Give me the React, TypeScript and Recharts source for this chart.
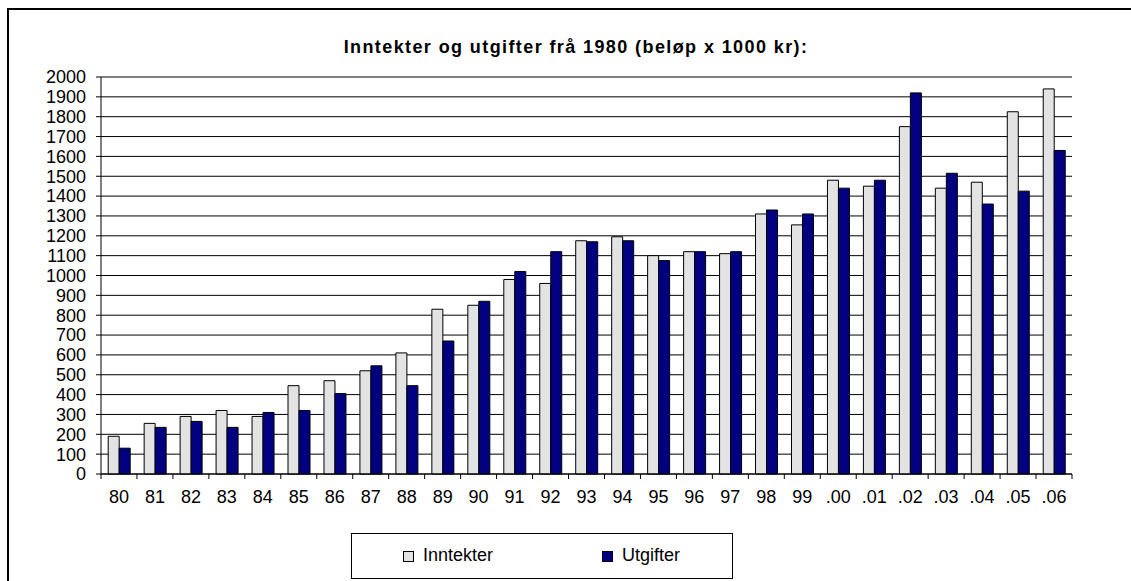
import React from 'react';
import { BarChart, Bar, XAxis, YAxis, CartesianGrid, Legend } from 'recharts';

const years = ['80','81','82','83','84','85','86','87','88','89','90','91','92','93','94','95','96','97','98','99','.00','.01','.02','.03','.04','.05','.06'];
const inntekter = [190,255,290,320,290,445,470,520,610,830,850,980,960,1175,1195,1100,1120,1110,1310,1255,1480,1450,1750,1440,1470,1825,1940];
const utgifter = [130,235,265,235,310,320,405,545,445,670,870,1020,1120,1170,1175,1075,1120,1120,1330,1310,1440,1480,1920,1515,1360,1425,1630];
const yTicks = [0,100,200,300,400,500,600,700,800,900,1000,1100,1200,1300,1400,1500,1600,1700,1800,1900,2000];

const data = years.map((y, i) => ({ year: y, Inntekter: inntekter[i], Utgifter: utgifter[i] }));

const FONT = '"Liberation Sans", Arial, sans-serif';
const TICK_SIZE = 5;
const TICK_MARGIN = 11;

const LegendBox = () => (
  <div style={{ width: 380, height: 44, border: '1px solid #000', boxSizing: 'content-box', position: 'relative', fontFamily: FONT, fontSize: 18, color: '#000', background: '#fff' }}>
    <div style={{ position: 'absolute', left: 51, top: 17, width: 9, height: 9, background: '#E3E3E3', border: '1px solid #000' }} />
    <div style={{ position: 'absolute', left: 71, top: 11, lineHeight: '20px' }}>Inntekter</div>
    <div style={{ position: 'absolute', left: 250, top: 17, width: 9, height: 9, background: '#000080', border: '1px solid #000' }} />
    <div style={{ position: 'absolute', left: 270, top: 11, lineHeight: '20px' }}>Utgifter</div>
  </div>
);

const CatTick = (props: any) => {
  const { x, y, payload, index } = props;
  const half = payload && payload.offset ? payload.offset : (1072 - 101) / years.length / 2;
  const axisY = y - TICK_SIZE - TICK_MARGIN;
  const isLast = index === years.length - 1;
  return (
    <g>
      <line x1={x - half} x2={x - half} y1={axisY} y2={axisY + TICK_SIZE} stroke="#000" />
      {isLast && <line x1={x + half} x2={x + half} y1={axisY} y2={axisY + TICK_SIZE} stroke="#000" />}
      <text x={x} y={y} dy="0.71em" textAnchor="middle" fill="#000" fontSize={18} fontFamily={FONT}>{payload.value}</text>
    </g>
  );
};

const tickLineStyle = { stroke: '#000' };
const yTick = { fill: '#000', fontSize: 18, fontFamily: FONT };
const axisLineStyle = { stroke: '#000' };
const legendContent = () => <LegendBox />;
const legendWrapper = { left: 351, top: 533, width: 382, height: 46 };
const yDomain = [0, 2000];

export default function App() {
  return (
    <div style={{ position: 'absolute', left: 0, top: 0, width: 1131, height: 581, overflow: 'hidden', background: '#fff' }}>
      <div style={{ position: 'absolute', left: 7, top: 8, width: 1300, height: 800, border: '2px solid #000' }} />
      <div style={{ position: 'absolute', left: 0, top: 37, width: 1152, textAlign: 'center', fontFamily: FONT, fontWeight: 'bold', fontSize: 18, letterSpacing: 1.4, color: '#000', lineHeight: '20px' }}>
        Inntekter og utgifter frå 1980 (beløp x 1000 kr):
      </div>
      <div style={{ position: 'absolute', left: 0, top: 0 }}>
        <BarChart width={1131} height={581} data={data} margin={{ top: 77, right: 59, left: 41, bottom: 77 }} barCategoryGap="20%" barGap={0}>
          <CartesianGrid horizontal={true} vertical={false} stroke="#000" strokeOpacity={1} />
          <XAxis dataKey="year" tickLine={false} tickSize={TICK_SIZE} tickMargin={TICK_MARGIN} axisLine={axisLineStyle} height={30} interval={0} tick={CatTick} />
          <YAxis domain={yDomain} ticks={yTicks} interval={0} width={60} tickSize={5} tickMargin={10} axisLine={axisLineStyle} tickLine={tickLineStyle} tick={yTick} />
          <Legend layout="horizontal" verticalAlign="middle" align="center" content={legendContent} wrapperStyle={legendWrapper} />
          <Bar dataKey="Inntekter" fill="#E3E3E3" stroke="#000" strokeWidth={1} isAnimationActive={false} />
          <Bar dataKey="Utgifter" fill="#000080" stroke="#000" strokeWidth={1} isAnimationActive={false} />
        </BarChart>
      </div>
    </div>
  );
}
